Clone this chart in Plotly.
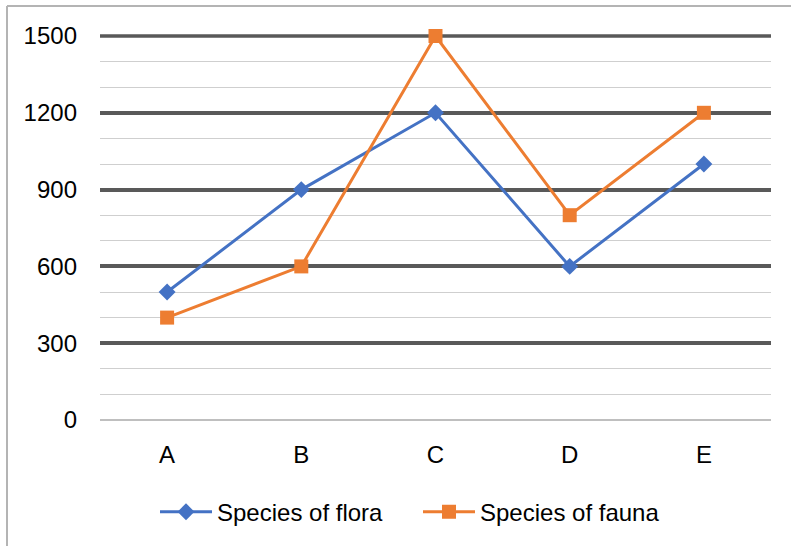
import plotly.graph_objects as go

categories = ["A", "B", "C", "D", "E"]
flora = [500, 900, 1200, 600, 1000]
fauna = [400, 600, 1500, 800, 1200]
y_ticks = [0, 300, 600, 900, 1200, 1500]
minor_ticks = [100, 200, 400, 500, 700, 800, 1000, 1100, 1300, 1400]
y_max = 1500

W, H = 791, 546
L, R, T, B = 100, 20, 36, 126
pw, ph = W - L - R, H - T - B

fig = go.Figure()
fig.add_trace(go.Scatter(x=categories, y=flora, name="Species of flora", mode="lines+markers",
                         line=dict(color="#4472C4", width=3), cliponaxis=False,
                         marker=dict(symbol="diamond", size=13, color="#4472C4")))
fig.add_trace(go.Scatter(x=categories, y=fauna, name="Species of fauna", mode="lines+markers",
                         line=dict(color="#ED7D31", width=3), cliponaxis=False,
                         marker=dict(symbol="square", size=14, color="#ED7D31")))

font = dict(family="Liberation Sans", size=24, color="#000000")
fig.update_layout(
    width=W, height=H,
    margin=dict(l=L, r=R, t=T, b=B, autoexpand=False),
    paper_bgcolor="white", plot_bgcolor="white",
    font=font,
    showlegend=True,
    legend=dict(orientation="h", x=(155 - L) / pw, xanchor="left", y=-0.24, yanchor="middle",
                font=font, itemwidth=52, entrywidth=196, entrywidthmode="pixels",
                tracegroupgap=0),
    xaxis=dict(type="category", range=[-0.5, 4.5], showgrid=False, showline=False,
               ticks="", tickfont=font, ticklabelstandoff=18),
    yaxis=dict(range=[0, y_max], tickvals=y_ticks, showgrid=True, gridcolor="#595959", gridwidth=3.5,
               zeroline=True, zerolinecolor="#bfbfbf", zerolinewidth=1.5,
               showline=False, ticks="", tickfont=font, ticklabelstandoff=22,
               minor=dict(tickvals=minor_ticks, showgrid=True, gridcolor="#cfcfcf", gridwidth=1.3)),
)

# top major gridline at the top edge of the plot area (paper ref so it is not clipped)
fig.add_shape(type="line", xref="paper", yref="paper", x0=0, x1=1, y0=1, y1=1,
              line=dict(color="#595959", width=3.5), layer="below")

# chart border (left and top edges visible in frame)
bx = (7 - L) / pw
by = (H - B - 6) / ph
fig.add_shape(type="line", xref="paper", yref="paper", x0=bx, x1=bx, y0=-0.6, y1=by,
              line=dict(color="#b4b4b4", width=2))
fig.add_shape(type="line", xref="paper", yref="paper", x0=bx, x1=1.2, y0=by, y1=by,
              line=dict(color="#b4b4b4", width=2))

fig.write_html("out.html", config={"displayModeBar": False},
               post_script="document.body.style.margin='0';document.body.style.overflow='hidden';")
